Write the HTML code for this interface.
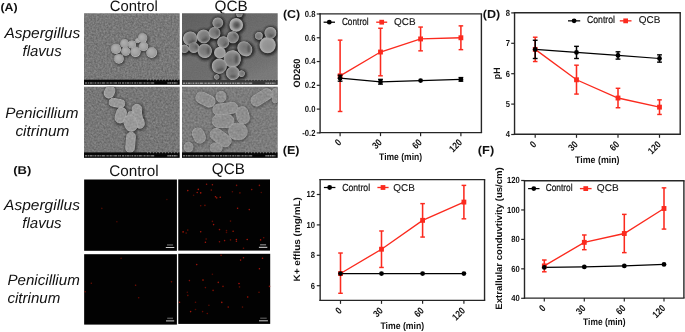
<!DOCTYPE html>
<html lang="en"><head><meta charset="utf-8"><title>Figure</title>
<style>
html,body{margin:0;padding:0;background:#fff;}
body{width:685px;height:332px;overflow:hidden;}
svg{display:block;font-family:'Liberation Sans', Arial, sans-serif;text-rendering:geometricPrecision;}
</style></head>
<body>
<svg width="685" height="332" viewBox="0 0 685 332">
<rect width="685" height="332" fill="#fff"/>
<defs>
<filter id="n0" x="0" y="0" width="100%" height="100%" color-interpolation-filters="sRGB">
<feTurbulence type="fractalNoise" baseFrequency="0.55" numOctaves="2" seed="3" result="t"/>
<feColorMatrix in="t" type="matrix" values="0.24 0 0 0 0.350  0.24 0 0 0 0.350  0.24 0 0 0 0.350  0 0 0 0 1"/>
</filter>
<filter id="n1" x="0" y="0" width="100%" height="100%" color-interpolation-filters="sRGB">
<feTurbulence type="fractalNoise" baseFrequency="0.8" numOctaves="2" seed="11" result="t"/>
<feColorMatrix in="t" type="matrix" values="0.05 0 0 0 0.405  0.05 0 0 0 0.405  0.05 0 0 0 0.405  0 0 0 0 1"/>
</filter>
<filter id="n2" x="0" y="0" width="100%" height="100%" color-interpolation-filters="sRGB">
<feTurbulence type="fractalNoise" baseFrequency="0.55" numOctaves="2" seed="7" result="t"/>
<feColorMatrix in="t" type="matrix" values="0.24 0 0 0 0.330  0.24 0 0 0 0.330  0.24 0 0 0 0.330  0 0 0 0 1"/>
</filter>
<filter id="n3" x="0" y="0" width="100%" height="100%" color-interpolation-filters="sRGB">
<feTurbulence type="fractalNoise" baseFrequency="0.55" numOctaves="2" seed="5" result="t"/>
<feColorMatrix in="t" type="matrix" values="0.16 0 0 0 0.390  0.16 0 0 0 0.390  0.16 0 0 0 0.390  0 0 0 0 1"/>
</filter>
<filter id="nt" x="0" y="0" width="100%" height="100%" color-interpolation-filters="sRGB">
<feTurbulence type="fractalNoise" baseFrequency="0.5" numOctaves="2" seed="21" result="t"/>
<feColorMatrix in="t" type="matrix" values="0.9 0 0 0 0.110  0.9 0 0 0 0.110  0.9 0 0 0 0.110  0 0 0 0 1"/>
</filter>
<filter id="b1" x="-20%" y="-20%" width="140%" height="140%"><feGaussianBlur stdDeviation="0.5"/></filter>
<filter id="b2" x="-20%" y="-20%" width="140%" height="140%"><feGaussianBlur stdDeviation="0.35"/></filter>
<radialGradient id="sp" cx="50%" cy="50%" r="52%" fx="36%" fy="33%">
<stop offset="0" stop-color="#b0b0b0"/><stop offset="0.5" stop-color="#a6a6a6"/><stop offset="0.84" stop-color="#9a9a9a"/><stop offset="0.94" stop-color="#bcbcbc"/><stop offset="1" stop-color="#a4a4a4"/>
</radialGradient>
<radialGradient id="sq" cx="50%" cy="50%" r="52%" fx="38%" fy="40%">
<stop offset="0" stop-color="#747474"/><stop offset="0.6" stop-color="#828282"/><stop offset="0.84" stop-color="#989898"/><stop offset="0.95" stop-color="#b2b2b2"/><stop offset="1" stop-color="#929292"/>
</radialGradient>
<radialGradient id="sb" cx="50%" cy="50%" r="52%" fx="58%" fy="60%">
<stop offset="0" stop-color="#909090"/><stop offset="0.6" stop-color="#989898"/><stop offset="0.9" stop-color="#acacac"/><stop offset="1" stop-color="#969696"/>
</radialGradient>
<radialGradient id="sr" cx="50%" cy="50%" r="54%">
<stop offset="0" stop-color="#a0a0a0"/><stop offset="0.7" stop-color="#a8a8a8"/><stop offset="0.94" stop-color="#c2c2c2"/><stop offset="1" stop-color="#acacac"/>
</radialGradient>
<radialGradient id="sd" cx="50%" cy="50%" r="52%" fx="55%" fy="52%">
<stop offset="0" stop-color="#4c4c4c"/><stop offset="0.35" stop-color="#686868"/><stop offset="0.65" stop-color="#9a9a9a"/><stop offset="0.92" stop-color="#b4b4b4"/><stop offset="1" stop-color="#8e8e8e"/>
</radialGradient>
<filter id="b3" x="-20%" y="-20%" width="140%" height="140%"><feGaussianBlur stdDeviation="0.9"/></filter>
<clipPath id="c0"><rect x="84.0" y="13.3" width="95.7" height="71.4"/></clipPath>
<clipPath id="c1"><rect x="182.0" y="13.3" width="95.7" height="71.4"/></clipPath>
<clipPath id="c2"><rect x="84.0" y="86.65" width="95.7" height="71.05"/></clipPath>
<clipPath id="c3"><rect x="182.0" y="86.65" width="95.7" height="71.05"/></clipPath>
<linearGradient id="bg1" x1="0" y1="0" x2="0.6" y2="1"><stop offset="0" stop-color="#000" stop-opacity="0.14"/><stop offset="0.55" stop-color="#000" stop-opacity="0"/><stop offset="1" stop-color="#fff" stop-opacity="0.08"/></linearGradient>
</defs>
<text x="0.40" y="11.00" font-size="11.2" font-weight="bold" font-style="normal" text-anchor="start" fill="#111" textLength="17.20" lengthAdjust="spacingAndGlyphs">(A)</text>
<text x="13.30" y="174.40" font-size="11.2" font-weight="bold" font-style="normal" text-anchor="start" fill="#111" textLength="18.00" lengthAdjust="spacingAndGlyphs">(B)</text>
<text x="109.80" y="11.20" font-size="15" font-weight="normal" font-style="normal" text-anchor="start" fill="#111" textLength="47.90" lengthAdjust="spacingAndGlyphs">Control</text>
<text x="214.50" y="11.20" font-size="15" font-weight="normal" font-style="normal" text-anchor="start" fill="#111" textLength="33.20" lengthAdjust="spacingAndGlyphs">QCB</text>
<text x="109.30" y="175.70" font-size="15.4" font-weight="normal" font-style="normal" text-anchor="start" fill="#111" textLength="49.30" lengthAdjust="spacingAndGlyphs">Control</text>
<text x="211.80" y="174.20" font-size="15.4" font-weight="normal" font-style="normal" text-anchor="start" fill="#111" textLength="33.00" lengthAdjust="spacingAndGlyphs">QCB</text>
<text x="4.40" y="37.50" font-size="15" font-weight="normal" font-style="italic" text-anchor="start" fill="#111" textLength="75.80" lengthAdjust="spacingAndGlyphs">Aspergillus</text>
<text x="22.60" y="55.70" font-size="15" font-weight="normal" font-style="italic" text-anchor="start" fill="#111" textLength="39.00" lengthAdjust="spacingAndGlyphs">flavus</text>
<text x="5.30" y="118.00" font-size="15" font-weight="normal" font-style="italic" text-anchor="start" fill="#111" textLength="73.20" lengthAdjust="spacingAndGlyphs">Penicillium</text>
<text x="15.40" y="136.40" font-size="15" font-weight="normal" font-style="italic" text-anchor="start" fill="#111" textLength="54.00" lengthAdjust="spacingAndGlyphs">citrinum</text>
<text x="4.10" y="209.70" font-size="15" font-weight="normal" font-style="italic" text-anchor="start" fill="#111" textLength="75.80" lengthAdjust="spacingAndGlyphs">Aspergillus</text>
<text x="22.30" y="227.70" font-size="15" font-weight="normal" font-style="italic" text-anchor="start" fill="#111" textLength="39.30" lengthAdjust="spacingAndGlyphs">flavus</text>
<text x="7.40" y="284.60" font-size="15" font-weight="normal" font-style="italic" text-anchor="start" fill="#111" textLength="72.40" lengthAdjust="spacingAndGlyphs">Penicillium</text>
<text x="7.40" y="303.40" font-size="15" font-weight="normal" font-style="italic" text-anchor="start" fill="#111" textLength="53.00" lengthAdjust="spacingAndGlyphs">citrinum</text>
<g clip-path="url(#c0)">
<rect x="84.0" y="13.3" width="95.7" height="71.4" fill="#787878" filter="url(#n0)"/>
<g filter="url(#b3)">
<ellipse cx="116.8" cy="49.9" rx="5.8" ry="5.8" fill="#383838" opacity="0.8"/>
<ellipse cx="125.3" cy="44.5" rx="5.1" ry="5.1" fill="#383838" opacity="0.8"/>
<ellipse cx="132.8" cy="45.5" rx="4.7" ry="4.7" fill="#383838" opacity="0.8"/>
<ellipse cx="138.4" cy="41.5" rx="3.3" ry="3.3" fill="#383838" opacity="0.8"/>
<ellipse cx="143.4" cy="39.1" rx="5.5" ry="5.5" fill="#383838" opacity="0.8"/>
<ellipse cx="144.3" cy="47.4" rx="5.4" ry="5.4" fill="#383838" opacity="0.8"/>
<ellipse cx="126.5" cy="52.3" rx="5.2" ry="5.2" fill="#383838" opacity="0.8"/>
<ellipse cx="136.3" cy="52.7" rx="5.9" ry="5.9" fill="#383838" opacity="0.8"/>
<ellipse cx="152.5" cy="53.5" rx="6.1" ry="6.1" fill="#383838" opacity="0.8"/>
<ellipse cx="119.7" cy="59.8" rx="5.6" ry="5.6" fill="#383838" opacity="0.8"/>
</g>
<g filter="url(#b1)">
<ellipse cx="116.0" cy="48.9" rx="5.1" ry="5.1" fill="url(#sp)"/>
<ellipse cx="124.5" cy="43.5" rx="4.4" ry="4.4" fill="url(#sp)"/>
<ellipse cx="132.0" cy="44.5" rx="4.0" ry="4.0" fill="url(#sp)"/>
<ellipse cx="137.6" cy="40.5" rx="2.6" ry="2.6" fill="url(#sp)"/>
<ellipse cx="142.6" cy="38.1" rx="4.8" ry="4.8" fill="url(#sp)"/>
<ellipse cx="143.5" cy="46.4" rx="4.7" ry="4.7" fill="url(#sp)"/>
<ellipse cx="125.7" cy="51.3" rx="4.5" ry="4.5" fill="url(#sp)"/>
<ellipse cx="135.5" cy="51.7" rx="5.2" ry="5.2" fill="url(#sp)"/>
<ellipse cx="151.7" cy="52.5" rx="5.4" ry="5.4" fill="url(#sp)"/>
<ellipse cx="118.9" cy="58.8" rx="4.9" ry="4.9" fill="url(#sp)"/>
</g>
<rect x="84.0" y="79.7" width="95.7" height="5.5" fill="#070707"/>
<line x1="85.0" y1="82.95" x2="155.0" y2="82.95" stroke="#747474" stroke-width="1.5" stroke-dasharray="2.2 0.7 1.1 0.6 3 0.8 0.9 0.5 1.6 0.9"/>
<line x1="167.4" y1="82.95" x2="177.4" y2="82.95" stroke="#8a8a8a" stroke-width="1.5" stroke-dasharray="1.4 0.5 2 0.6"/>
<line x1="147.0" y1="79.90" x2="179.7" y2="79.90" stroke="#c0c0c0" stroke-width="1.3" stroke-dasharray="0.6 2.4" opacity="0.8"/>
</g>
<g clip-path="url(#c1)">
<rect x="182.0" y="13.3" width="95.7" height="71.4" fill="#6e6e6e" filter="url(#n1)"/>
<rect x="182.0" y="13.3" width="95.7" height="71.4" fill="url(#bg1)"/>
<g filter="url(#b3)">
<ellipse cx="190.7" cy="39.4" rx="8.8" ry="8.8" fill="#1c1c1c" opacity="0.8"/>
<ellipse cx="204.2" cy="37.2" rx="8.5" ry="8.5" fill="#1c1c1c" opacity="0.8"/>
<ellipse cx="215.0" cy="33.7" rx="7.6" ry="7.6" fill="#1c1c1c" opacity="0.8"/>
<ellipse cx="218.3" cy="23.6" rx="7.0" ry="7.0" fill="#1c1c1c" opacity="0.8"/>
<ellipse cx="236.7" cy="25.7" rx="8.5" ry="8.5" fill="#1c1c1c" opacity="0.8"/>
<ellipse cx="233.4" cy="38.1" rx="7.6" ry="7.6" fill="#1c1c1c" opacity="0.8"/>
<ellipse cx="223.7" cy="43.1" rx="7.6" ry="7.6" fill="#1c1c1c" opacity="0.8"/>
<ellipse cx="245.3" cy="49.6" rx="9.8" ry="8.5" fill="#1c1c1c" opacity="0.8" transform="rotate(15 244.8 48.8)"/>
<ellipse cx="205.3" cy="51.7" rx="8.8" ry="8.8" fill="#1c1c1c" opacity="0.8"/>
<ellipse cx="194.4" cy="48.5" rx="7.0" ry="7.0" fill="#1c1c1c" opacity="0.8"/>
<ellipse cx="185.1" cy="49.6" rx="5.9" ry="5.9" fill="#1c1c1c" opacity="0.8"/>
<ellipse cx="220.4" cy="53.5" rx="7.5" ry="7.5" fill="#1c1c1c" opacity="0.8"/>
<ellipse cx="232.8" cy="59.7" rx="10.3" ry="10.3" fill="#1c1c1c" opacity="0.8"/>
<ellipse cx="219.8" cy="66.9" rx="9.2" ry="9.2" fill="#1c1c1c" opacity="0.8" transform="rotate(200 219.3 66.1)"/>
<ellipse cx="233.4" cy="74.0" rx="8.5" ry="8.5" fill="#1c1c1c" opacity="0.8"/>
<ellipse cx="242.1" cy="74.5" rx="4.9" ry="4.9" fill="#1c1c1c" opacity="0.8"/>
<ellipse cx="268.1" cy="45.9" rx="9.8" ry="9.8" fill="#1c1c1c" opacity="0.8"/>
<ellipse cx="270.9" cy="33.7" rx="7.6" ry="7.6" fill="#1c1c1c" opacity="0.8"/>
<ellipse cx="259.4" cy="36.6" rx="5.5" ry="5.5" fill="#1c1c1c" opacity="0.8"/>
<ellipse cx="239.9" cy="14.8" rx="4.8" ry="4.8" fill="#1c1c1c" opacity="0.8"/>
<ellipse cx="217.2" cy="77.8" rx="4.2" ry="4.2" fill="#1c1c1c" opacity="0.8"/>
</g>
<g filter="url(#b1)">
<ellipse cx="190.2" cy="38.6" rx="7.2" ry="7.2" fill="url(#sq)" transform="rotate(120 190.2 38.6)"/>
<ellipse cx="203.7" cy="36.4" rx="6.9" ry="6.9" fill="url(#sq)" transform="rotate(155 203.7 36.4)"/>
<ellipse cx="214.5" cy="32.9" rx="6.0" ry="6.0" fill="url(#sq)" transform="rotate(52 214.5 32.9)"/>
<ellipse cx="217.8" cy="22.8" rx="5.4" ry="5.4" fill="url(#sq)" transform="rotate(202 217.8 22.8)"/>
<ellipse cx="236.2" cy="24.9" rx="6.9" ry="6.9" fill="url(#sd)"/>
<ellipse cx="232.9" cy="37.3" rx="6.0" ry="6.0" fill="url(#sq)" transform="rotate(245 232.9 37.3)"/>
<ellipse cx="223.2" cy="42.3" rx="6.0" ry="6.0" fill="url(#sq)" transform="rotate(79 223.2 42.3)"/>
<ellipse cx="244.8" cy="48.8" rx="8.2" ry="6.9" fill="url(#sq)" transform="rotate(46 244.8 48.8)"/>
<ellipse cx="204.8" cy="50.9" rx="7.2" ry="7.2" fill="url(#sq)" transform="rotate(34 204.8 50.9)"/>
<ellipse cx="193.9" cy="47.7" rx="5.4" ry="5.4" fill="url(#sq)" transform="rotate(10 193.9 47.7)"/>
<ellipse cx="184.6" cy="48.8" rx="4.3" ry="4.3" fill="url(#sq)" transform="rotate(205 184.6 48.8)"/>
<ellipse cx="219.9" cy="52.7" rx="5.9" ry="5.9" fill="url(#sb)"/>
<ellipse cx="232.3" cy="58.9" rx="8.7" ry="8.7" fill="url(#sq)" transform="rotate(281 232.3 58.9)"/>
<ellipse cx="219.3" cy="66.1" rx="7.6" ry="7.6" fill="url(#sq)" transform="rotate(148 219.3 66.1)"/>
<ellipse cx="232.9" cy="73.2" rx="6.9" ry="6.9" fill="url(#sq)" transform="rotate(30 232.9 73.2)"/>
<ellipse cx="241.6" cy="73.7" rx="3.3" ry="3.3" fill="url(#sq)" transform="rotate(113 241.6 73.7)"/>
<ellipse cx="267.6" cy="45.1" rx="8.2" ry="8.2" fill="url(#sb)"/>
<ellipse cx="270.4" cy="32.9" rx="6.0" ry="6.0" fill="url(#sq)" transform="rotate(266 270.4 32.9)"/>
<ellipse cx="258.9" cy="35.8" rx="3.9" ry="3.9" fill="url(#sq)" transform="rotate(274 258.9 35.8)"/>
<ellipse cx="239.4" cy="14.0" rx="3.2" ry="3.2" fill="url(#sq)" transform="rotate(184 239.4 14.0)"/>
<ellipse cx="216.7" cy="77.0" rx="2.6" ry="2.6" fill="url(#sq)" transform="rotate(141 216.7 77.0)"/>
</g>
<g filter="url(#b3)">
<ellipse cx="191.8" cy="41.8" rx="4.0" ry="1.4" fill="#303030" opacity="0.6" transform="rotate(154 191.8 41.8)"/>
<ellipse cx="204.9" cy="39.6" rx="3.8" ry="1.4" fill="#303030" opacity="0.6" transform="rotate(160 204.9 39.6)"/>
<ellipse cx="217.5" cy="32.8" rx="3.3" ry="1.2" fill="#303030" opacity="0.6" transform="rotate(89 217.5 32.8)"/>
<ellipse cx="218.1" cy="25.5" rx="3.0" ry="1.1" fill="#303030" opacity="0.6" transform="rotate(174 218.1 25.5)"/>
<ellipse cx="235.5" cy="35.7" rx="3.3" ry="1.2" fill="#303030" opacity="0.6" transform="rotate(59 235.5 35.7)"/>
<ellipse cx="225.3" cy="44.5" rx="3.3" ry="1.2" fill="#303030" opacity="0.6" transform="rotate(136 225.3 44.5)"/>
<ellipse cx="248.9" cy="48.7" rx="4.5" ry="1.4" fill="#303030" opacity="0.6" transform="rotate(88 248.9 48.7)"/>
<ellipse cx="208.4" cy="50.9" rx="4.0" ry="1.4" fill="#303030" opacity="0.6" transform="rotate(90 208.4 50.9)"/>
<ellipse cx="196.5" cy="47.1" rx="3.0" ry="1.1" fill="#303030" opacity="0.6" transform="rotate(76 196.5 47.1)"/>
<ellipse cx="236.6" cy="59.1" rx="4.8" ry="1.7" fill="#303030" opacity="0.6" transform="rotate(92 236.6 59.1)"/>
<ellipse cx="220.3" cy="69.8" rx="4.2" ry="1.5" fill="#303030" opacity="0.6" transform="rotate(165 220.3 69.8)"/>
<ellipse cx="233.1" cy="76.6" rx="3.8" ry="1.4" fill="#303030" opacity="0.6" transform="rotate(177 233.1 76.6)"/>
<ellipse cx="271.3" cy="35.8" rx="3.3" ry="1.2" fill="#303030" opacity="0.6" transform="rotate(163 271.3 35.8)"/>
</g>
<rect x="182.0" y="80.0" width="95.7" height="5.2" fill="#383838"/>
<line x1="183.0" y1="83.25" x2="253.0" y2="83.25" stroke="#969696" stroke-width="1.5" stroke-dasharray="2.2 0.7 1.1 0.6 3 0.8 0.9 0.5 1.6 0.9"/>
<line x1="265.4" y1="83.25" x2="275.4" y2="83.25" stroke="#969696" stroke-width="1.5" stroke-dasharray="1.4 0.5 2 0.6"/>
<line x1="245.0" y1="80.20" x2="277.7" y2="80.20" stroke="#a0a0a0" stroke-width="1.3" stroke-dasharray="0.6 2.4" opacity="0.8"/>
</g>
<g clip-path="url(#c2)">
<rect x="84.0" y="86.65" width="95.7" height="71.05" fill="#737373" filter="url(#n2)"/>
<g filter="url(#b3)">
<rect x="103.6" y="84.8" width="13.0" height="15.8" rx="6.4" ry="6.4" fill="#262626" opacity="0.75" transform="rotate(25 110.1 92.7)"/>
<rect x="107.9" y="97.9" width="19.0" height="11.4" rx="5.6" ry="5.6" fill="#262626" opacity="0.75" transform="rotate(10 117.4 103.6)"/>
<rect x="114.6" y="106.5" width="13.4" height="19.0" rx="6.6" ry="6.6" fill="#262626" opacity="0.75" transform="rotate(15 121.3 116.0)"/>
<rect x="131.0" y="103.3" width="13.0" height="13.8" rx="6.4" ry="6.4" fill="#262626" opacity="0.75"/>
<rect x="133.9" y="115.7" width="12.4" height="15.0" rx="6.1" ry="6.1" fill="#262626" opacity="0.75" transform="rotate(-10 140.1 123.2)"/>
<rect x="133.2" y="106.9" width="11.0" height="18.6" rx="5.4" ry="5.4" fill="#262626" opacity="0.75" transform="rotate(-10 138.7 116.2)"/>
<rect x="126.5" y="110.3" width="9.2" height="9.2" rx="4.5" ry="4.5" fill="#262626" opacity="0.75"/>
<rect x="123.2" y="113.7" width="15.8" height="20.0" rx="7.7" ry="7.7" fill="#262626" opacity="0.75" transform="rotate(-20 131.1 123.7)"/>
<rect x="125.0" y="131.1" width="12.2" height="23.8" rx="6.0" ry="6.0" fill="#262626" opacity="0.75" transform="rotate(5 131.1 143.0)"/>
</g>
<g filter="url(#b1)">
<rect x="104.8" y="85.8" width="9.5" height="12.3" rx="4.7" ry="4.7" fill="#9c9c9c" stroke="#b0b0b0" stroke-width="0.9" transform="rotate(25 109.6 92.0)"/>
<rect x="109.2" y="99.0" width="15.5" height="7.9" rx="3.9" ry="3.9" fill="#9c9c9c" stroke="#b0b0b0" stroke-width="0.9" transform="rotate(10 116.9 102.9)"/>
<rect x="115.8" y="107.5" width="9.9" height="15.5" rx="4.9" ry="4.9" fill="#9c9c9c" stroke="#b0b0b0" stroke-width="0.9" transform="rotate(15 120.8 115.3)"/>
<rect x="132.2" y="104.3" width="9.5" height="10.3" rx="4.7" ry="4.7" fill="#9c9c9c" stroke="#b0b0b0" stroke-width="0.9"/>
<rect x="135.2" y="116.8" width="8.9" height="11.5" rx="4.4" ry="4.4" fill="#9c9c9c" stroke="#b0b0b0" stroke-width="0.9" transform="rotate(-10 139.6 122.5)"/>
<rect x="134.4" y="108.0" width="7.5" height="15.1" rx="3.7" ry="3.7" fill="#9c9c9c" stroke="#b0b0b0" stroke-width="0.9" transform="rotate(-10 138.2 115.5)"/>
<rect x="127.8" y="111.4" width="5.7" height="5.7" rx="2.8" ry="2.8" fill="#9c9c9c" stroke="#b0b0b0" stroke-width="0.9"/>
<rect x="124.4" y="114.8" width="12.3" height="16.5" rx="6.0" ry="6.0" fill="#9c9c9c" stroke="#b0b0b0" stroke-width="0.9" transform="rotate(-20 130.6 123.0)"/>
<rect x="126.2" y="132.2" width="8.7" height="20.3" rx="4.3" ry="4.3" fill="#9c9c9c" stroke="#b0b0b0" stroke-width="0.9" transform="rotate(5 130.6 142.3)"/>
</g>
<g filter="url(#b3)">
<rect x="107.0" y="88.7" width="5.2" height="6.6" rx="2.5" ry="2.5" fill="#969696" opacity="0.5" transform="rotate(25 109.6 92.0)"/>
<rect x="112.8" y="100.7" width="8.2" height="4.4" rx="2.2" ry="2.2" fill="#969696" opacity="0.5" transform="rotate(10 116.9 102.9)"/>
<rect x="118.1" y="111.2" width="5.4" height="8.2" rx="2.6" ry="2.6" fill="#969696" opacity="0.5" transform="rotate(15 120.8 115.3)"/>
<rect x="134.4" y="106.7" width="5.2" height="5.6" rx="2.5" ry="2.5" fill="#969696" opacity="0.5"/>
<rect x="137.2" y="119.4" width="4.9" height="6.2" rx="2.4" ry="2.4" fill="#969696" opacity="0.5" transform="rotate(-10 139.6 122.5)"/>
<rect x="136.1" y="111.5" width="4.2" height="8.0" rx="2.1" ry="2.1" fill="#969696" opacity="0.5" transform="rotate(-10 138.2 115.5)"/>
<rect x="128.9" y="112.5" width="3.3" height="3.3" rx="1.6" ry="1.6" fill="#969696" opacity="0.5"/>
<rect x="127.3" y="118.7" width="6.6" height="8.7" rx="3.2" ry="3.2" fill="#969696" opacity="0.5" transform="rotate(-20 130.6 123.0)"/>
<rect x="128.2" y="137.0" width="4.8" height="10.6" rx="2.4" ry="2.4" fill="#969696" opacity="0.5" transform="rotate(5 130.6 142.3)"/>
</g>
<rect x="84.0" y="86.65" width="95.7" height="71.05" fill="#8f8f8f" filter="url(#nt)" opacity="0.16"/>
<rect x="84.0" y="152.4" width="95.7" height="5.8" fill="#070707"/>
<line x1="85.0" y1="155.65" x2="155.0" y2="155.65" stroke="#747474" stroke-width="1.5" stroke-dasharray="2.2 0.7 1.1 0.6 3 0.8 0.9 0.5 1.6 0.9"/>
<line x1="167.4" y1="155.65" x2="177.4" y2="155.65" stroke="#8a8a8a" stroke-width="1.5" stroke-dasharray="1.4 0.5 2 0.6"/>
<line x1="147.0" y1="152.60" x2="179.7" y2="152.60" stroke="#c0c0c0" stroke-width="1.3" stroke-dasharray="0.6 2.4" opacity="0.8"/>
</g>
<g clip-path="url(#c3)">
<rect x="182.0" y="86.65" width="95.7" height="71.05" fill="#787878" filter="url(#n3)"/>
<g filter="url(#b3)">
<rect x="194.5" y="93.0" width="22.8" height="14.2" rx="7.0" ry="7.0" fill="#333333" opacity="0.6" transform="rotate(25 205.9 100.1)"/>
<rect x="215.1" y="90.6" width="12.8" height="13.8" rx="6.3" ry="6.3" fill="#333333" opacity="0.6"/>
<rect x="211.8" y="102.6" width="28.0" height="13.8" rx="6.8" ry="6.8" fill="#333333" opacity="0.6" transform="rotate(-8 225.8 109.5)"/>
<rect x="235.7" y="105.9" width="15.0" height="20.2" rx="7.3" ry="7.3" fill="#333333" opacity="0.6" transform="rotate(-15 243.2 116.0)"/>
<rect x="211.4" y="113.9" width="24.6" height="15.8" rx="7.7" ry="7.7" fill="#333333" opacity="0.6"/>
<rect x="227.6" y="122.5" width="21.6" height="19.4" rx="9.5" ry="9.5" fill="#333333" opacity="0.6"/>
<rect x="208.2" y="130.8" width="25.8" height="15.0" rx="7.3" ry="7.3" fill="#333333" opacity="0.6" transform="rotate(35 221.1 138.3)"/>
<rect x="192.3" y="126.9" width="14.2" height="18.4" rx="7.0" ry="7.0" fill="#333333" opacity="0.6" transform="rotate(-25 199.4 136.1)"/>
<rect x="183.2" y="141.4" width="11.6" height="12.8" rx="5.7" ry="5.7" fill="#333333" opacity="0.6"/>
<rect x="209.2" y="142.1" width="15.0" height="12.8" rx="6.3" ry="6.3" fill="#333333" opacity="0.6"/>
<rect x="249.3" y="91.1" width="25.8" height="13.8" rx="6.8" ry="6.8" fill="#333333" opacity="0.6" transform="rotate(-32 262.2 98.0)"/>
<rect x="271.4" y="87.9" width="8.6" height="17.2" rx="4.2" ry="4.2" fill="#333333" opacity="0.6"/>
</g>
<g filter="url(#b1)">
<rect x="195.5" y="93.8" width="19.9" height="11.3" rx="5.5" ry="5.5" fill="#909090" stroke="#a4a4a4" stroke-width="0.9" transform="rotate(25 205.4 99.4)"/>
<rect x="216.1" y="91.3" width="9.9" height="10.9" rx="4.9" ry="4.9" fill="#909090" stroke="#a4a4a4" stroke-width="0.9"/>
<rect x="212.8" y="103.3" width="25.1" height="10.9" rx="5.3" ry="5.3" fill="#909090" stroke="#a4a4a4" stroke-width="0.9" transform="rotate(-8 225.3 108.8)"/>
<rect x="236.6" y="106.6" width="12.1" height="17.3" rx="5.9" ry="5.9" fill="#909090" stroke="#a4a4a4" stroke-width="0.9" transform="rotate(-15 242.7 115.3)"/>
<rect x="212.3" y="114.6" width="21.7" height="12.9" rx="6.3" ry="6.3" fill="#909090" stroke="#a4a4a4" stroke-width="0.9"/>
<rect x="228.6" y="123.2" width="18.7" height="16.5" rx="8.1" ry="8.1" fill="#909090" stroke="#a4a4a4" stroke-width="0.9"/>
<rect x="209.2" y="131.5" width="22.9" height="12.1" rx="5.9" ry="5.9" fill="#909090" stroke="#a4a4a4" stroke-width="0.9" transform="rotate(35 220.6 137.6)"/>
<rect x="193.2" y="127.7" width="11.3" height="15.5" rx="5.5" ry="5.5" fill="#909090" stroke="#a4a4a4" stroke-width="0.9" transform="rotate(-25 198.9 135.4)"/>
<rect x="184.2" y="142.2" width="8.7" height="9.9" rx="4.3" ry="4.3" fill="#909090" stroke="#a4a4a4" stroke-width="0.9"/>
<rect x="210.1" y="142.9" width="12.1" height="9.9" rx="4.9" ry="4.9" fill="#909090" stroke="#a4a4a4" stroke-width="0.9"/>
<rect x="250.2" y="91.8" width="22.9" height="10.9" rx="5.3" ry="5.3" fill="#909090" stroke="#a4a4a4" stroke-width="0.9" transform="rotate(-32 261.7 97.3)"/>
<rect x="272.3" y="88.6" width="5.7" height="14.3" rx="2.8" ry="2.8" fill="#909090" stroke="#a4a4a4" stroke-width="0.9"/>
</g>
<g filter="url(#b3)">
<rect x="200.2" y="96.4" width="10.4" height="6.1" rx="3.0" ry="3.0" fill="#8a8a8a" opacity="0.5" transform="rotate(25 205.4 99.4)"/>
<rect x="218.3" y="93.8" width="5.4" height="5.9" rx="2.6" ry="2.6" fill="#8a8a8a" opacity="0.5"/>
<rect x="218.8" y="105.8" width="13.0" height="5.9" rx="2.9" ry="2.9" fill="#8a8a8a" opacity="0.5" transform="rotate(-8 225.3 108.8)"/>
<rect x="239.4" y="110.8" width="6.5" height="9.1" rx="3.2" ry="3.2" fill="#8a8a8a" opacity="0.5" transform="rotate(-15 242.7 115.3)"/>
<rect x="217.5" y="117.6" width="11.3" height="6.9" rx="3.4" ry="3.4" fill="#8a8a8a" opacity="0.5"/>
<rect x="233.0" y="127.2" width="9.8" height="8.7" rx="4.3" ry="4.3" fill="#8a8a8a" opacity="0.5"/>
<rect x="214.7" y="134.3" width="11.9" height="6.5" rx="3.2" ry="3.2" fill="#8a8a8a" opacity="0.5" transform="rotate(35 220.6 137.6)"/>
<rect x="195.8" y="131.3" width="6.1" height="8.2" rx="3.0" ry="3.0" fill="#8a8a8a" opacity="0.5" transform="rotate(-25 198.9 135.4)"/>
<rect x="186.1" y="144.4" width="4.8" height="5.4" rx="2.4" ry="2.4" fill="#8a8a8a" opacity="0.5"/>
<rect x="212.9" y="145.1" width="6.5" height="5.4" rx="2.6" ry="2.6" fill="#8a8a8a" opacity="0.5"/>
<rect x="255.8" y="94.3" width="11.9" height="5.9" rx="2.9" ry="2.9" fill="#8a8a8a" opacity="0.5" transform="rotate(-32 261.7 97.3)"/>
<rect x="273.6" y="92.0" width="3.3" height="7.6" rx="1.6" ry="1.6" fill="#8a8a8a" opacity="0.5"/>
</g>
<rect x="182.0" y="86.65" width="95.7" height="71.05" fill="#8f8f8f" filter="url(#nt)" opacity="0.2"/>
<rect x="182.0" y="152.4" width="95.7" height="5.8" fill="#070707"/>
<line x1="183.0" y1="155.65" x2="253.0" y2="155.65" stroke="#747474" stroke-width="1.5" stroke-dasharray="2.2 0.7 1.1 0.6 3 0.8 0.9 0.5 1.6 0.9"/>
<line x1="265.4" y1="155.65" x2="275.4" y2="155.65" stroke="#8a8a8a" stroke-width="1.5" stroke-dasharray="1.4 0.5 2 0.6"/>
<line x1="245.0" y1="152.60" x2="277.7" y2="152.60" stroke="#c0c0c0" stroke-width="1.3" stroke-dasharray="0.6 2.4" opacity="0.8"/>
</g>
<rect x="84.15" y="179.5" width="92.75" height="71.3" fill="#020202"/>
<rect x="178.25" y="179.4" width="91.75" height="71.2" fill="#020202"/>
<rect x="84.15" y="254.2" width="92.75" height="70.4" fill="#020202"/>
<rect x="178.25" y="253.8" width="91.95" height="70.1" fill="#020202"/>
<g fill="#c01a0c" filter="url(#b2)">
<circle cx="166.9" cy="199.5" r="0.8" opacity="0.36"/>
<circle cx="101.8" cy="208.4" r="0.8" opacity="0.39"/>
<circle cx="116.9" cy="221.8" r="0.8" opacity="0.40"/>
</g>
<g fill="#c01a0c" filter="url(#b2)">
<circle cx="206.6" cy="184.2" r="0.8" opacity="0.71"/>
<circle cx="212.4" cy="184.7" r="0.8" opacity="0.77"/>
<circle cx="187.8" cy="190.6" r="0.8" opacity="0.80"/>
<circle cx="198.3" cy="189.4" r="0.8" opacity="0.87"/>
<circle cx="197.2" cy="192.5" r="0.8" opacity="0.77"/>
<circle cx="200.7" cy="192.9" r="0.8" opacity="0.86"/>
<circle cx="193.6" cy="195.3" r="0.8" opacity="0.41"/>
<circle cx="211.3" cy="190.1" r="0.8" opacity="0.63"/>
<circle cx="215.5" cy="196.7" r="0.8" opacity="0.87"/>
<circle cx="216.7" cy="197.9" r="0.8" opacity="0.72"/>
<circle cx="220.2" cy="197.2" r="0.8" opacity="0.85"/>
<circle cx="232.4" cy="191.7" r="0.8" opacity="0.46"/>
<circle cx="236.6" cy="185.4" r="0.8" opacity="0.63"/>
<circle cx="239.9" cy="192.9" r="0.8" opacity="0.52"/>
<circle cx="251.7" cy="189.6" r="0.8" opacity="0.67"/>
<circle cx="259.4" cy="185.4" r="0.8" opacity="0.69"/>
<circle cx="261.3" cy="192.5" r="0.8" opacity="0.41"/>
<circle cx="200.7" cy="205.8" r="0.8" opacity="0.51"/>
<circle cx="204.9" cy="205.4" r="0.8" opacity="0.54"/>
<circle cx="237.6" cy="208.2" r="0.8" opacity="0.86"/>
<circle cx="249.3" cy="209.6" r="0.8" opacity="0.78"/>
<circle cx="212.4" cy="221.4" r="0.8" opacity="0.48"/>
<circle cx="213.6" cy="224.6" r="0.8" opacity="0.80"/>
<circle cx="230.5" cy="221.1" r="0.8" opacity="0.47"/>
<circle cx="219.5" cy="229.6" r="0.8" opacity="0.71"/>
<circle cx="226.5" cy="230.5" r="0.8" opacity="0.46"/>
<circle cx="226.5" cy="232.4" r="0.8" opacity="0.40"/>
<circle cx="233.1" cy="231.2" r="0.8" opacity="0.84"/>
<circle cx="187.8" cy="230.1" r="0.8" opacity="0.50"/>
<circle cx="186.1" cy="233.1" r="0.8" opacity="0.51"/>
<circle cx="183.1" cy="231.9" r="0.8" opacity="0.89"/>
<circle cx="200.7" cy="231.7" r="0.8" opacity="0.84"/>
<circle cx="206.1" cy="239.0" r="0.8" opacity="0.54"/>
<circle cx="205.4" cy="242.3" r="0.8" opacity="0.88"/>
<circle cx="219.5" cy="241.8" r="0.8" opacity="0.67"/>
<circle cx="224.6" cy="240.6" r="0.8" opacity="0.74"/>
<circle cx="230.5" cy="239.9" r="0.8" opacity="0.50"/>
<circle cx="236.4" cy="239.5" r="0.8" opacity="0.87"/>
<circle cx="236.4" cy="241.3" r="0.8" opacity="0.75"/>
<circle cx="247.2" cy="239.5" r="0.8" opacity="0.88"/>
<circle cx="260.6" cy="239.9" r="0.8" opacity="0.85"/>
<circle cx="263.7" cy="237.8" r="0.8" opacity="0.55"/>
<circle cx="243.5" cy="248.2" r="0.8" opacity="0.58"/>
</g>
<g fill="#c01a0c" filter="url(#b2)">
<circle cx="121.1" cy="258.2" r="0.8" opacity="0.50"/>
<circle cx="91.3" cy="283.3" r="0.8" opacity="0.54"/>
<circle cx="85.2" cy="291.8" r="0.8" opacity="0.56"/>
<circle cx="135.6" cy="285.2" r="0.8" opacity="0.61"/>
<circle cx="138.7" cy="297.7" r="0.8" opacity="0.54"/>
<circle cx="171.5" cy="281.7" r="0.8" opacity="0.60"/>
</g>
<g fill="#c01a0c" filter="url(#b2)">
<circle cx="221.1" cy="255.2" r="0.8" opacity="0.71"/>
<circle cx="243.5" cy="257.8" r="0.8" opacity="0.77"/>
<circle cx="240.6" cy="260.1" r="0.8" opacity="0.80"/>
<circle cx="262.5" cy="258.2" r="0.8" opacity="0.87"/>
<circle cx="196.7" cy="264.6" r="0.8" opacity="0.77"/>
<circle cx="259.4" cy="268.8" r="0.8" opacity="0.86"/>
<circle cx="212.4" cy="274.2" r="0.8" opacity="0.41"/>
<circle cx="189.4" cy="280.6" r="0.8" opacity="0.63"/>
<circle cx="203.0" cy="280.1" r="0.8" opacity="0.87"/>
<circle cx="218.3" cy="282.4" r="0.8" opacity="0.72"/>
<circle cx="239.0" cy="283.6" r="0.8" opacity="0.85"/>
<circle cx="239.5" cy="286.9" r="0.8" opacity="0.46"/>
<circle cx="223.0" cy="286.4" r="0.8" opacity="0.63"/>
<circle cx="205.4" cy="287.6" r="0.8" opacity="0.52"/>
<circle cx="213.1" cy="290.4" r="0.8" opacity="0.67"/>
<circle cx="269.5" cy="286.4" r="0.8" opacity="0.69"/>
<circle cx="187.3" cy="292.3" r="0.8" opacity="0.41"/>
<circle cx="187.8" cy="295.4" r="0.8" opacity="0.51"/>
<circle cx="259.0" cy="292.3" r="0.8" opacity="0.54"/>
<circle cx="247.7" cy="297.0" r="0.8" opacity="0.86"/>
<circle cx="179.5" cy="302.2" r="0.8" opacity="0.78"/>
<circle cx="195.5" cy="302.2" r="0.8" opacity="0.48"/>
<circle cx="221.8" cy="302.4" r="0.8" opacity="0.80"/>
<circle cx="208.9" cy="305.2" r="0.8" opacity="0.47"/>
<circle cx="228.2" cy="307.1" r="0.8" opacity="0.71"/>
<circle cx="242.5" cy="307.1" r="0.8" opacity="0.46"/>
<circle cx="195.5" cy="309.5" r="0.8" opacity="0.40"/>
<circle cx="190.6" cy="311.6" r="0.8" opacity="0.84"/>
<circle cx="202.6" cy="311.6" r="0.8" opacity="0.50"/>
<circle cx="207.3" cy="313.5" r="0.8" opacity="0.51"/>
</g>
<rect x="165.8" y="247.0" width="8.5" height="1.0" fill="#d0d0d0"/>
<rect x="167.0" y="244.2" width="6.1" height="1.5" fill="#8a8a8a" opacity="0.6"/>
<rect x="258.9" y="246.8" width="8.4" height="1.0" fill="#e0e0e0"/>
<rect x="260.09999999999997" y="244.0" width="6.0" height="1.5" fill="#b0b0b0" opacity="0.6"/>
<rect x="166.0" y="320.4" width="8.2" height="1.0" fill="#d0d0d0"/>
<rect x="167.2" y="317.59999999999997" width="5.8" height="1.5" fill="#8a8a8a" opacity="0.6"/>
<rect x="259.0" y="320.3" width="8.9" height="1.0" fill="#d0d0d0"/>
<rect x="260.2" y="317.5" width="6.5" height="1.5" fill="#777" opacity="0.6"/>
<line x1="319.40" y1="13.90" x2="482.10" y2="13.90" stroke="#262626" stroke-width="1.4" stroke-linecap="butt"/>
<line x1="481.40" y1="13.90" x2="481.40" y2="132.65" stroke="#262626" stroke-width="1.4" stroke-linecap="butt"/>
<line x1="320.10" y1="13.20" x2="320.10" y2="133.35" stroke="#262626" stroke-width="1.4" stroke-linecap="butt"/>
<line x1="319.40" y1="132.65" x2="482.10" y2="132.65" stroke="#262626" stroke-width="1.4" stroke-linecap="butt"/>
<line x1="316.75" y1="13.98" x2="320.10" y2="13.98" stroke="#262626" stroke-width="1.2" stroke-linecap="butt"/>
<text x="304.76" y="16.93" font-size="8.8" font-weight="bold" font-style="normal" text-anchor="start" fill="#111" textLength="10.64" lengthAdjust="spacingAndGlyphs">0.8</text>
<line x1="316.75" y1="37.76" x2="320.10" y2="37.76" stroke="#262626" stroke-width="1.2" stroke-linecap="butt"/>
<text x="304.76" y="40.71" font-size="8.8" font-weight="bold" font-style="normal" text-anchor="start" fill="#111" textLength="10.64" lengthAdjust="spacingAndGlyphs">0.6</text>
<line x1="316.75" y1="61.54" x2="320.10" y2="61.54" stroke="#262626" stroke-width="1.2" stroke-linecap="butt"/>
<text x="304.76" y="64.49" font-size="8.8" font-weight="bold" font-style="normal" text-anchor="start" fill="#111" textLength="10.64" lengthAdjust="spacingAndGlyphs">0.4</text>
<line x1="316.75" y1="85.32" x2="320.10" y2="85.32" stroke="#262626" stroke-width="1.2" stroke-linecap="butt"/>
<text x="304.76" y="88.27" font-size="8.8" font-weight="bold" font-style="normal" text-anchor="start" fill="#111" textLength="10.64" lengthAdjust="spacingAndGlyphs">0.2</text>
<line x1="316.75" y1="109.10" x2="320.10" y2="109.10" stroke="#262626" stroke-width="1.2" stroke-linecap="butt"/>
<text x="304.76" y="112.05" font-size="8.8" font-weight="bold" font-style="normal" text-anchor="start" fill="#111" textLength="10.64" lengthAdjust="spacingAndGlyphs">0.0</text>
<line x1="316.75" y1="132.88" x2="320.10" y2="132.88" stroke="#262626" stroke-width="1.2" stroke-linecap="butt"/>
<text x="302.21" y="135.83" font-size="8.8" font-weight="bold" font-style="normal" text-anchor="start" fill="#111" textLength="13.19" lengthAdjust="spacingAndGlyphs">-0.2</text>
<line x1="340.10" y1="132.65" x2="340.10" y2="136.15" stroke="#262626" stroke-width="1.2" stroke-linecap="butt"/>
<line x1="380.50" y1="132.65" x2="380.50" y2="136.15" stroke="#262626" stroke-width="1.2" stroke-linecap="butt"/>
<line x1="420.60" y1="132.65" x2="420.60" y2="136.15" stroke="#262626" stroke-width="1.2" stroke-linecap="butt"/>
<line x1="460.90" y1="132.65" x2="460.90" y2="136.15" stroke="#262626" stroke-width="1.2" stroke-linecap="butt"/>
<text x="337.40" y="142.95" font-size="9.6" font-weight="bold" font-style="normal" text-anchor="start" fill="#111" textLength="4.60" lengthAdjust="spacingAndGlyphs" transform="rotate(-45 342.00 142.95)">0</text>
<text x="373.21" y="142.95" font-size="9.6" font-weight="bold" font-style="normal" text-anchor="start" fill="#111" textLength="9.19" lengthAdjust="spacingAndGlyphs" transform="rotate(-45 382.40 142.95)">30</text>
<text x="413.31" y="142.95" font-size="9.6" font-weight="bold" font-style="normal" text-anchor="start" fill="#111" textLength="9.19" lengthAdjust="spacingAndGlyphs" transform="rotate(-45 422.50 142.95)">60</text>
<text x="449.01" y="142.95" font-size="9.6" font-weight="bold" font-style="normal" text-anchor="start" fill="#111" textLength="13.79" lengthAdjust="spacingAndGlyphs" transform="rotate(-45 462.80 142.95)">120</text>
<text x="379.10" y="160.10" font-size="9.6" font-weight="bold" font-style="normal" text-anchor="start" fill="#111" textLength="43.00" lengthAdjust="spacingAndGlyphs">Time (min)</text>
<text x="299.70" y="73.00" font-size="9.3" font-weight="bold" font-style="normal" text-anchor="middle" fill="#111" textLength="28.90" lengthAdjust="spacingAndGlyphs" transform="rotate(-90 299.70 73.00)">OD260</text>
<polyline fill="none" stroke="#000" stroke-width="1.25" points="340.10,78.19 380.50,81.75 420.60,80.56 460.90,79.38"/>
<polyline fill="none" stroke="#fb2a1e" stroke-width="1.35" points="340.10,75.81 380.50,52.03 420.60,38.95 460.90,37.76"/>
<line x1="340.10" y1="111.48" x2="340.10" y2="40.14" stroke="#fb2a1e" stroke-width="1.55" stroke-linecap="butt"/>
<line x1="337.80" y1="111.48" x2="342.40" y2="111.48" stroke="#fb2a1e" stroke-width="1.45" stroke-linecap="butt"/>
<line x1="337.80" y1="40.14" x2="342.40" y2="40.14" stroke="#fb2a1e" stroke-width="1.45" stroke-linecap="butt"/>
<rect x="337.70" y="73.36" width="4.8" height="4.9" fill="#fb2a1e"/>
<line x1="380.50" y1="75.81" x2="380.50" y2="28.25" stroke="#fb2a1e" stroke-width="1.55" stroke-linecap="butt"/>
<line x1="378.20" y1="75.81" x2="382.80" y2="75.81" stroke="#fb2a1e" stroke-width="1.45" stroke-linecap="butt"/>
<line x1="378.20" y1="28.25" x2="382.80" y2="28.25" stroke="#fb2a1e" stroke-width="1.45" stroke-linecap="butt"/>
<rect x="378.10" y="49.58" width="4.8" height="4.9" fill="#fb2a1e"/>
<line x1="420.60" y1="50.84" x2="420.60" y2="27.06" stroke="#fb2a1e" stroke-width="1.55" stroke-linecap="butt"/>
<line x1="418.30" y1="50.84" x2="422.90" y2="50.84" stroke="#fb2a1e" stroke-width="1.45" stroke-linecap="butt"/>
<line x1="418.30" y1="27.06" x2="422.90" y2="27.06" stroke="#fb2a1e" stroke-width="1.45" stroke-linecap="butt"/>
<rect x="418.20" y="36.50" width="4.8" height="4.9" fill="#fb2a1e"/>
<line x1="460.90" y1="49.65" x2="460.90" y2="25.87" stroke="#fb2a1e" stroke-width="1.55" stroke-linecap="butt"/>
<line x1="458.60" y1="49.65" x2="463.20" y2="49.65" stroke="#fb2a1e" stroke-width="1.45" stroke-linecap="butt"/>
<line x1="458.60" y1="25.87" x2="463.20" y2="25.87" stroke="#fb2a1e" stroke-width="1.45" stroke-linecap="butt"/>
<rect x="458.50" y="35.31" width="4.8" height="4.9" fill="#fb2a1e"/>
<line x1="340.10" y1="81.16" x2="340.10" y2="75.21" stroke="#000" stroke-width="1.5" stroke-linecap="butt"/>
<line x1="337.70" y1="81.16" x2="342.50" y2="81.16" stroke="#000" stroke-width="1.4" stroke-linecap="butt"/>
<line x1="337.70" y1="75.21" x2="342.50" y2="75.21" stroke="#000" stroke-width="1.4" stroke-linecap="butt"/>
<circle cx="340.10" cy="78.19" r="2.4" fill="#000"/>
<line x1="380.50" y1="84.13" x2="380.50" y2="79.38" stroke="#000" stroke-width="1.5" stroke-linecap="butt"/>
<line x1="378.10" y1="84.13" x2="382.90" y2="84.13" stroke="#000" stroke-width="1.4" stroke-linecap="butt"/>
<line x1="378.10" y1="79.38" x2="382.90" y2="79.38" stroke="#000" stroke-width="1.4" stroke-linecap="butt"/>
<circle cx="380.50" cy="81.75" r="2.4" fill="#000"/>
<circle cx="420.60" cy="80.56" r="2.4" fill="#000"/>
<line x1="460.90" y1="81.16" x2="460.90" y2="77.59" stroke="#000" stroke-width="1.5" stroke-linecap="butt"/>
<line x1="458.50" y1="81.16" x2="463.30" y2="81.16" stroke="#000" stroke-width="1.4" stroke-linecap="butt"/>
<line x1="458.50" y1="77.59" x2="463.30" y2="77.59" stroke="#000" stroke-width="1.4" stroke-linecap="butt"/>
<circle cx="460.90" cy="79.38" r="2.4" fill="#000"/>
<line x1="323.60" y1="22.20" x2="335.00" y2="22.20" stroke="#000" stroke-width="1.25" stroke-linecap="butt"/>
<circle cx="329.30" cy="22.20" r="2.4" fill="#000"/>
<text x="341.90" y="25.30" font-size="10.2" font-weight="normal" font-style="normal" text-anchor="start" fill="#141414" textLength="26.70" lengthAdjust="spacingAndGlyphs" stroke="#141414" stroke-width="0.22">Control</text>
<line x1="376.20" y1="22.20" x2="387.20" y2="22.20" stroke="#fb2a1e" stroke-width="1.35" stroke-linecap="butt"/>
<rect x="379.35" y="19.80" width="4.7" height="4.8" fill="#fb2a1e"/>
<text x="394.00" y="25.30" font-size="9.9" font-weight="normal" font-style="normal" text-anchor="start" fill="#141414" textLength="21.60" lengthAdjust="spacingAndGlyphs" stroke="#141414" stroke-width="0.12">QCB</text>
<text x="282.90" y="18.40" font-size="11.5" font-weight="bold" font-style="normal" text-anchor="start" fill="#111" textLength="17.30" lengthAdjust="spacingAndGlyphs">(C)</text>
<text x="282.70" y="153.60" font-size="11.5" font-weight="bold" font-style="normal" text-anchor="start" fill="#111" textLength="16.80" lengthAdjust="spacingAndGlyphs">(E)</text>
<text x="482.80" y="18.30" font-size="11.5" font-weight="bold" font-style="normal" text-anchor="start" fill="#111" textLength="17.40" lengthAdjust="spacingAndGlyphs">(D)</text>
<text x="477.80" y="153.60" font-size="11.5" font-weight="bold" font-style="normal" text-anchor="start" fill="#111" textLength="16.40" lengthAdjust="spacingAndGlyphs">(F)</text>
<line x1="513.85" y1="12.80" x2="680.90" y2="12.80" stroke="#262626" stroke-width="1.4" stroke-linecap="butt"/>
<line x1="680.20" y1="12.80" x2="680.20" y2="134.30" stroke="#262626" stroke-width="1.4" stroke-linecap="butt"/>
<line x1="514.55" y1="12.10" x2="514.55" y2="135.00" stroke="#262626" stroke-width="1.4" stroke-linecap="butt"/>
<line x1="513.85" y1="134.30" x2="680.90" y2="134.30" stroke="#262626" stroke-width="1.4" stroke-linecap="butt"/>
<line x1="511.20" y1="12.90" x2="514.55" y2="12.90" stroke="#262626" stroke-width="1.2" stroke-linecap="butt"/>
<text x="505.79" y="15.85" font-size="8.8" font-weight="bold" font-style="normal" text-anchor="start" fill="#111" textLength="4.26" lengthAdjust="spacingAndGlyphs">8</text>
<line x1="511.20" y1="43.30" x2="514.55" y2="43.30" stroke="#262626" stroke-width="1.2" stroke-linecap="butt"/>
<text x="505.79" y="46.25" font-size="8.8" font-weight="bold" font-style="normal" text-anchor="start" fill="#111" textLength="4.26" lengthAdjust="spacingAndGlyphs">7</text>
<line x1="511.20" y1="73.70" x2="514.55" y2="73.70" stroke="#262626" stroke-width="1.2" stroke-linecap="butt"/>
<text x="505.79" y="76.65" font-size="8.8" font-weight="bold" font-style="normal" text-anchor="start" fill="#111" textLength="4.26" lengthAdjust="spacingAndGlyphs">6</text>
<line x1="511.20" y1="104.10" x2="514.55" y2="104.10" stroke="#262626" stroke-width="1.2" stroke-linecap="butt"/>
<text x="505.79" y="107.05" font-size="8.8" font-weight="bold" font-style="normal" text-anchor="start" fill="#111" textLength="4.26" lengthAdjust="spacingAndGlyphs">5</text>
<line x1="511.20" y1="134.50" x2="514.55" y2="134.50" stroke="#262626" stroke-width="1.2" stroke-linecap="butt"/>
<text x="505.79" y="137.45" font-size="8.8" font-weight="bold" font-style="normal" text-anchor="start" fill="#111" textLength="4.26" lengthAdjust="spacingAndGlyphs">4</text>
<line x1="535.20" y1="134.30" x2="535.20" y2="137.80" stroke="#262626" stroke-width="1.2" stroke-linecap="butt"/>
<line x1="576.50" y1="134.30" x2="576.50" y2="137.80" stroke="#262626" stroke-width="1.2" stroke-linecap="butt"/>
<line x1="618.00" y1="134.30" x2="618.00" y2="137.80" stroke="#262626" stroke-width="1.2" stroke-linecap="butt"/>
<line x1="659.50" y1="134.30" x2="659.50" y2="137.80" stroke="#262626" stroke-width="1.2" stroke-linecap="butt"/>
<text x="532.50" y="145.10" font-size="9.6" font-weight="bold" font-style="normal" text-anchor="start" fill="#111" textLength="4.60" lengthAdjust="spacingAndGlyphs" transform="rotate(-45 537.10 145.10)">0</text>
<text x="569.21" y="145.10" font-size="9.6" font-weight="bold" font-style="normal" text-anchor="start" fill="#111" textLength="9.19" lengthAdjust="spacingAndGlyphs" transform="rotate(-45 578.40 145.10)">30</text>
<text x="610.71" y="145.10" font-size="9.6" font-weight="bold" font-style="normal" text-anchor="start" fill="#111" textLength="9.19" lengthAdjust="spacingAndGlyphs" transform="rotate(-45 619.90 145.10)">60</text>
<text x="647.61" y="145.10" font-size="9.6" font-weight="bold" font-style="normal" text-anchor="start" fill="#111" textLength="13.79" lengthAdjust="spacingAndGlyphs" transform="rotate(-45 661.40 145.10)">120</text>
<text x="575.10" y="162.60" font-size="9.6" font-weight="bold" font-style="normal" text-anchor="start" fill="#111" textLength="44.40" lengthAdjust="spacingAndGlyphs">Time (min)</text>
<text x="500.20" y="73.30" font-size="9.3" font-weight="bold" font-style="normal" text-anchor="middle" fill="#111" textLength="11.80" lengthAdjust="spacingAndGlyphs" transform="rotate(-90 500.20 73.30)">pH</text>
<polyline fill="none" stroke="#000" stroke-width="1.25" points="535.20,49.38 576.50,52.42 618.00,55.46 659.50,58.50"/>
<polyline fill="none" stroke="#fb2a1e" stroke-width="1.35" points="535.20,49.38 576.50,79.78 618.00,98.02 659.50,107.14"/>
<line x1="535.20" y1="61.54" x2="535.20" y2="37.22" stroke="#fb2a1e" stroke-width="1.55" stroke-linecap="butt"/>
<line x1="532.90" y1="61.54" x2="537.50" y2="61.54" stroke="#fb2a1e" stroke-width="1.45" stroke-linecap="butt"/>
<line x1="532.90" y1="37.22" x2="537.50" y2="37.22" stroke="#fb2a1e" stroke-width="1.45" stroke-linecap="butt"/>
<rect x="532.80" y="46.93" width="4.8" height="4.9" fill="#fb2a1e"/>
<line x1="576.50" y1="94.07" x2="576.50" y2="65.19" stroke="#fb2a1e" stroke-width="1.55" stroke-linecap="butt"/>
<line x1="574.20" y1="94.07" x2="578.80" y2="94.07" stroke="#fb2a1e" stroke-width="1.45" stroke-linecap="butt"/>
<line x1="574.20" y1="65.19" x2="578.80" y2="65.19" stroke="#fb2a1e" stroke-width="1.45" stroke-linecap="butt"/>
<rect x="574.10" y="77.33" width="4.8" height="4.9" fill="#fb2a1e"/>
<line x1="618.00" y1="107.75" x2="618.00" y2="88.29" stroke="#fb2a1e" stroke-width="1.55" stroke-linecap="butt"/>
<line x1="615.70" y1="107.75" x2="620.30" y2="107.75" stroke="#fb2a1e" stroke-width="1.45" stroke-linecap="butt"/>
<line x1="615.70" y1="88.29" x2="620.30" y2="88.29" stroke="#fb2a1e" stroke-width="1.45" stroke-linecap="butt"/>
<rect x="615.60" y="95.57" width="4.8" height="4.9" fill="#fb2a1e"/>
<line x1="659.50" y1="114.44" x2="659.50" y2="99.84" stroke="#fb2a1e" stroke-width="1.55" stroke-linecap="butt"/>
<line x1="657.20" y1="114.44" x2="661.80" y2="114.44" stroke="#fb2a1e" stroke-width="1.45" stroke-linecap="butt"/>
<line x1="657.20" y1="99.84" x2="661.80" y2="99.84" stroke="#fb2a1e" stroke-width="1.45" stroke-linecap="butt"/>
<rect x="657.10" y="104.69" width="4.8" height="4.9" fill="#fb2a1e"/>
<line x1="535.20" y1="58.50" x2="535.20" y2="40.26" stroke="#000" stroke-width="1.5" stroke-linecap="butt"/>
<line x1="532.80" y1="58.50" x2="537.60" y2="58.50" stroke="#000" stroke-width="1.4" stroke-linecap="butt"/>
<line x1="532.80" y1="40.26" x2="537.60" y2="40.26" stroke="#000" stroke-width="1.4" stroke-linecap="butt"/>
<circle cx="535.20" cy="49.38" r="2.4" fill="#000"/>
<line x1="576.50" y1="58.50" x2="576.50" y2="46.34" stroke="#000" stroke-width="1.5" stroke-linecap="butt"/>
<line x1="574.10" y1="58.50" x2="578.90" y2="58.50" stroke="#000" stroke-width="1.4" stroke-linecap="butt"/>
<line x1="574.10" y1="46.34" x2="578.90" y2="46.34" stroke="#000" stroke-width="1.4" stroke-linecap="butt"/>
<circle cx="576.50" cy="52.42" r="2.4" fill="#000"/>
<line x1="618.00" y1="59.11" x2="618.00" y2="51.81" stroke="#000" stroke-width="1.5" stroke-linecap="butt"/>
<line x1="615.60" y1="59.11" x2="620.40" y2="59.11" stroke="#000" stroke-width="1.4" stroke-linecap="butt"/>
<line x1="615.60" y1="51.81" x2="620.40" y2="51.81" stroke="#000" stroke-width="1.4" stroke-linecap="butt"/>
<circle cx="618.00" cy="55.46" r="2.4" fill="#000"/>
<line x1="659.50" y1="62.15" x2="659.50" y2="54.85" stroke="#000" stroke-width="1.5" stroke-linecap="butt"/>
<line x1="657.10" y1="62.15" x2="661.90" y2="62.15" stroke="#000" stroke-width="1.4" stroke-linecap="butt"/>
<line x1="657.10" y1="54.85" x2="661.90" y2="54.85" stroke="#000" stroke-width="1.4" stroke-linecap="butt"/>
<circle cx="659.50" cy="58.50" r="2.4" fill="#000"/>
<line x1="568.00" y1="20.85" x2="580.20" y2="20.85" stroke="#000" stroke-width="1.25" stroke-linecap="butt"/>
<circle cx="574.10" cy="20.85" r="2.4" fill="#000"/>
<text x="587.00" y="23.40" font-size="10.2" font-weight="normal" font-style="normal" text-anchor="start" fill="#141414" textLength="27.90" lengthAdjust="spacingAndGlyphs" stroke="#141414" stroke-width="0.22">Control</text>
<line x1="619.80" y1="20.85" x2="631.50" y2="20.85" stroke="#fb2a1e" stroke-width="1.35" stroke-linecap="butt"/>
<rect x="623.30" y="18.45" width="4.7" height="4.8" fill="#fb2a1e"/>
<text x="638.80" y="23.40" font-size="9.9" font-weight="normal" font-style="normal" text-anchor="start" fill="#141414" textLength="21.60" lengthAdjust="spacingAndGlyphs" stroke="#141414" stroke-width="0.12">QCB</text>
<line x1="319.45" y1="179.65" x2="485.25" y2="179.65" stroke="#262626" stroke-width="1.4" stroke-linecap="butt"/>
<line x1="484.55" y1="179.65" x2="484.55" y2="300.35" stroke="#262626" stroke-width="1.4" stroke-linecap="butt"/>
<line x1="320.15" y1="178.95" x2="320.15" y2="301.05" stroke="#262626" stroke-width="1.4" stroke-linecap="butt"/>
<line x1="319.45" y1="300.35" x2="485.25" y2="300.35" stroke="#262626" stroke-width="1.4" stroke-linecap="butt"/>
<line x1="316.80" y1="194.50" x2="320.15" y2="194.50" stroke="#262626" stroke-width="1.2" stroke-linecap="butt"/>
<text x="306.54" y="197.45" font-size="8.8" font-weight="bold" font-style="normal" text-anchor="start" fill="#111" textLength="8.51" lengthAdjust="spacingAndGlyphs">12</text>
<line x1="316.80" y1="224.90" x2="320.15" y2="224.90" stroke="#262626" stroke-width="1.2" stroke-linecap="butt"/>
<text x="306.54" y="227.85" font-size="8.8" font-weight="bold" font-style="normal" text-anchor="start" fill="#111" textLength="8.51" lengthAdjust="spacingAndGlyphs">10</text>
<line x1="316.80" y1="255.30" x2="320.15" y2="255.30" stroke="#262626" stroke-width="1.2" stroke-linecap="butt"/>
<text x="310.79" y="258.25" font-size="8.8" font-weight="bold" font-style="normal" text-anchor="start" fill="#111" textLength="4.26" lengthAdjust="spacingAndGlyphs">8</text>
<line x1="316.80" y1="285.70" x2="320.15" y2="285.70" stroke="#262626" stroke-width="1.2" stroke-linecap="butt"/>
<text x="310.79" y="288.65" font-size="8.8" font-weight="bold" font-style="normal" text-anchor="start" fill="#111" textLength="4.26" lengthAdjust="spacingAndGlyphs">6</text>
<line x1="340.50" y1="300.35" x2="340.50" y2="303.85" stroke="#262626" stroke-width="1.2" stroke-linecap="butt"/>
<line x1="381.50" y1="300.35" x2="381.50" y2="303.85" stroke="#262626" stroke-width="1.2" stroke-linecap="butt"/>
<line x1="422.60" y1="300.35" x2="422.60" y2="303.85" stroke="#262626" stroke-width="1.2" stroke-linecap="butt"/>
<line x1="463.90" y1="300.35" x2="463.90" y2="303.85" stroke="#262626" stroke-width="1.2" stroke-linecap="butt"/>
<text x="337.80" y="311.15" font-size="9.6" font-weight="bold" font-style="normal" text-anchor="start" fill="#111" textLength="4.60" lengthAdjust="spacingAndGlyphs" transform="rotate(-45 342.40 311.15)">0</text>
<text x="374.21" y="311.15" font-size="9.6" font-weight="bold" font-style="normal" text-anchor="start" fill="#111" textLength="9.19" lengthAdjust="spacingAndGlyphs" transform="rotate(-45 383.40 311.15)">30</text>
<text x="415.31" y="311.15" font-size="9.6" font-weight="bold" font-style="normal" text-anchor="start" fill="#111" textLength="9.19" lengthAdjust="spacingAndGlyphs" transform="rotate(-45 424.50 311.15)">60</text>
<text x="452.01" y="311.15" font-size="9.6" font-weight="bold" font-style="normal" text-anchor="start" fill="#111" textLength="13.79" lengthAdjust="spacingAndGlyphs" transform="rotate(-45 465.80 311.15)">120</text>
<text x="380.40" y="328.90" font-size="9.6" font-weight="bold" font-style="normal" text-anchor="start" fill="#111" textLength="43.80" lengthAdjust="spacingAndGlyphs">Time (min)</text>
<text x="300.40" y="239.30" font-size="9.2" font-weight="bold" font-style="normal" text-anchor="middle" fill="#111" textLength="84.40" lengthAdjust="spacingAndGlyphs" transform="rotate(-90 300.40 239.30)">K+ efflus (mg/mL)</text>
<polyline fill="none" stroke="#000" stroke-width="1.25" points="340.50,273.54 381.50,273.54 422.60,273.54 463.90,273.54"/>
<polyline fill="none" stroke="#fb2a1e" stroke-width="1.35" points="340.50,273.54 381.50,249.22 422.60,220.34 463.90,202.10"/>
<line x1="340.50" y1="293.30" x2="340.50" y2="253.02" stroke="#fb2a1e" stroke-width="1.55" stroke-linecap="butt"/>
<line x1="338.20" y1="293.30" x2="342.80" y2="293.30" stroke="#fb2a1e" stroke-width="1.45" stroke-linecap="butt"/>
<line x1="338.20" y1="253.02" x2="342.80" y2="253.02" stroke="#fb2a1e" stroke-width="1.45" stroke-linecap="butt"/>
<rect x="338.10" y="271.09" width="4.8" height="4.9" fill="#fb2a1e"/>
<line x1="381.50" y1="267.46" x2="381.50" y2="230.98" stroke="#fb2a1e" stroke-width="1.55" stroke-linecap="butt"/>
<line x1="379.20" y1="267.46" x2="383.80" y2="267.46" stroke="#fb2a1e" stroke-width="1.45" stroke-linecap="butt"/>
<line x1="379.20" y1="230.98" x2="383.80" y2="230.98" stroke="#fb2a1e" stroke-width="1.45" stroke-linecap="butt"/>
<rect x="379.10" y="246.77" width="4.8" height="4.9" fill="#fb2a1e"/>
<line x1="422.60" y1="237.06" x2="422.60" y2="203.62" stroke="#fb2a1e" stroke-width="1.55" stroke-linecap="butt"/>
<line x1="420.30" y1="237.06" x2="424.90" y2="237.06" stroke="#fb2a1e" stroke-width="1.45" stroke-linecap="butt"/>
<line x1="420.30" y1="203.62" x2="424.90" y2="203.62" stroke="#fb2a1e" stroke-width="1.45" stroke-linecap="butt"/>
<rect x="420.20" y="217.89" width="4.8" height="4.9" fill="#fb2a1e"/>
<line x1="463.90" y1="218.82" x2="463.90" y2="185.38" stroke="#fb2a1e" stroke-width="1.55" stroke-linecap="butt"/>
<line x1="461.60" y1="218.82" x2="466.20" y2="218.82" stroke="#fb2a1e" stroke-width="1.45" stroke-linecap="butt"/>
<line x1="461.60" y1="185.38" x2="466.20" y2="185.38" stroke="#fb2a1e" stroke-width="1.45" stroke-linecap="butt"/>
<rect x="461.50" y="199.65" width="4.8" height="4.9" fill="#fb2a1e"/>
<circle cx="340.50" cy="273.54" r="2.4" fill="#000"/>
<circle cx="381.50" cy="273.54" r="2.4" fill="#000"/>
<circle cx="422.60" cy="273.54" r="2.4" fill="#000"/>
<circle cx="463.90" cy="273.54" r="2.4" fill="#000"/>
<line x1="323.90" y1="187.50" x2="335.40" y2="187.50" stroke="#000" stroke-width="1.25" stroke-linecap="butt"/>
<circle cx="329.65" cy="187.50" r="2.4" fill="#000"/>
<text x="342.20" y="190.60" font-size="10.2" font-weight="normal" font-style="normal" text-anchor="start" fill="#141414" textLength="27.90" lengthAdjust="spacingAndGlyphs" stroke="#141414" stroke-width="0.22">Control</text>
<line x1="377.40" y1="187.50" x2="388.60" y2="187.50" stroke="#fb2a1e" stroke-width="1.35" stroke-linecap="butt"/>
<rect x="380.65" y="185.10" width="4.7" height="4.8" fill="#fb2a1e"/>
<text x="393.20" y="190.60" font-size="9.9" font-weight="normal" font-style="normal" text-anchor="start" fill="#141414" textLength="21.60" lengthAdjust="spacingAndGlyphs" stroke="#141414" stroke-width="0.12">QCB</text>
<line x1="523.80" y1="180.80" x2="684.60" y2="180.80" stroke="#262626" stroke-width="1.4" stroke-linecap="butt"/>
<line x1="683.90" y1="180.80" x2="683.90" y2="298.10" stroke="#262626" stroke-width="1.4" stroke-linecap="butt"/>
<line x1="524.50" y1="180.10" x2="524.50" y2="298.80" stroke="#262626" stroke-width="1.4" stroke-linecap="butt"/>
<line x1="523.80" y1="298.10" x2="684.60" y2="298.10" stroke="#262626" stroke-width="1.4" stroke-linecap="butt"/>
<line x1="521.15" y1="180.50" x2="524.50" y2="180.50" stroke="#262626" stroke-width="1.2" stroke-linecap="butt"/>
<text x="507.03" y="183.45" font-size="8.8" font-weight="bold" font-style="normal" text-anchor="start" fill="#111" textLength="12.77" lengthAdjust="spacingAndGlyphs">120</text>
<line x1="521.15" y1="209.95" x2="524.50" y2="209.95" stroke="#262626" stroke-width="1.2" stroke-linecap="butt"/>
<text x="507.03" y="212.90" font-size="8.8" font-weight="bold" font-style="normal" text-anchor="start" fill="#111" textLength="12.77" lengthAdjust="spacingAndGlyphs">100</text>
<line x1="521.15" y1="239.40" x2="524.50" y2="239.40" stroke="#262626" stroke-width="1.2" stroke-linecap="butt"/>
<text x="511.29" y="242.35" font-size="8.8" font-weight="bold" font-style="normal" text-anchor="start" fill="#111" textLength="8.51" lengthAdjust="spacingAndGlyphs">80</text>
<line x1="521.15" y1="268.85" x2="524.50" y2="268.85" stroke="#262626" stroke-width="1.2" stroke-linecap="butt"/>
<text x="511.29" y="271.80" font-size="8.8" font-weight="bold" font-style="normal" text-anchor="start" fill="#111" textLength="8.51" lengthAdjust="spacingAndGlyphs">60</text>
<line x1="521.15" y1="298.30" x2="524.50" y2="298.30" stroke="#262626" stroke-width="1.2" stroke-linecap="butt"/>
<text x="511.29" y="301.25" font-size="8.8" font-weight="bold" font-style="normal" text-anchor="start" fill="#111" textLength="8.51" lengthAdjust="spacingAndGlyphs">40</text>
<line x1="544.30" y1="298.10" x2="544.30" y2="301.60" stroke="#262626" stroke-width="1.2" stroke-linecap="butt"/>
<line x1="584.30" y1="298.10" x2="584.30" y2="301.60" stroke="#262626" stroke-width="1.2" stroke-linecap="butt"/>
<line x1="624.30" y1="298.10" x2="624.30" y2="301.60" stroke="#262626" stroke-width="1.2" stroke-linecap="butt"/>
<line x1="664.00" y1="298.10" x2="664.00" y2="301.60" stroke="#262626" stroke-width="1.2" stroke-linecap="butt"/>
<text x="541.60" y="308.70" font-size="9.6" font-weight="bold" font-style="normal" text-anchor="start" fill="#111" textLength="4.60" lengthAdjust="spacingAndGlyphs" transform="rotate(-45 546.20 308.70)">0</text>
<text x="577.01" y="308.70" font-size="9.6" font-weight="bold" font-style="normal" text-anchor="start" fill="#111" textLength="9.19" lengthAdjust="spacingAndGlyphs" transform="rotate(-45 586.20 308.70)">30</text>
<text x="617.01" y="308.70" font-size="9.6" font-weight="bold" font-style="normal" text-anchor="start" fill="#111" textLength="9.19" lengthAdjust="spacingAndGlyphs" transform="rotate(-45 626.20 308.70)">60</text>
<text x="652.11" y="308.70" font-size="9.6" font-weight="bold" font-style="normal" text-anchor="start" fill="#111" textLength="13.79" lengthAdjust="spacingAndGlyphs" transform="rotate(-45 665.90 308.70)">120</text>
<text x="583.10" y="325.30" font-size="9.6" font-weight="bold" font-style="normal" text-anchor="start" fill="#111" textLength="42.40" lengthAdjust="spacingAndGlyphs">Time (min)</text>
<text x="502.40" y="238.45" font-size="9.3" font-weight="bold" font-style="normal" text-anchor="middle" fill="#111" textLength="142.50" lengthAdjust="spacingAndGlyphs" transform="rotate(-90 502.40 238.45)">Extrallular conduvtivity (us/cm)</text>
<polyline fill="none" stroke="#000" stroke-width="1.25" points="544.30,267.38 584.30,266.94 624.30,265.91 664.00,264.43"/>
<polyline fill="none" stroke="#fb2a1e" stroke-width="1.35" points="544.30,265.91 584.30,242.35 624.30,233.51 664.00,208.48"/>
<line x1="544.30" y1="271.80" x2="544.30" y2="260.01" stroke="#fb2a1e" stroke-width="1.55" stroke-linecap="butt"/>
<line x1="542.00" y1="271.80" x2="546.60" y2="271.80" stroke="#fb2a1e" stroke-width="1.45" stroke-linecap="butt"/>
<line x1="542.00" y1="260.01" x2="546.60" y2="260.01" stroke="#fb2a1e" stroke-width="1.45" stroke-linecap="butt"/>
<rect x="541.90" y="263.46" width="4.8" height="4.9" fill="#fb2a1e"/>
<line x1="584.30" y1="249.71" x2="584.30" y2="234.98" stroke="#fb2a1e" stroke-width="1.55" stroke-linecap="butt"/>
<line x1="582.00" y1="249.71" x2="586.60" y2="249.71" stroke="#fb2a1e" stroke-width="1.45" stroke-linecap="butt"/>
<line x1="582.00" y1="234.98" x2="586.60" y2="234.98" stroke="#fb2a1e" stroke-width="1.45" stroke-linecap="butt"/>
<rect x="581.90" y="239.90" width="4.8" height="4.9" fill="#fb2a1e"/>
<line x1="624.30" y1="252.65" x2="624.30" y2="214.37" stroke="#fb2a1e" stroke-width="1.55" stroke-linecap="butt"/>
<line x1="622.00" y1="252.65" x2="626.60" y2="252.65" stroke="#fb2a1e" stroke-width="1.45" stroke-linecap="butt"/>
<line x1="622.00" y1="214.37" x2="626.60" y2="214.37" stroke="#fb2a1e" stroke-width="1.45" stroke-linecap="butt"/>
<rect x="621.90" y="231.06" width="4.8" height="4.9" fill="#fb2a1e"/>
<line x1="664.00" y1="229.09" x2="664.00" y2="187.86" stroke="#fb2a1e" stroke-width="1.55" stroke-linecap="butt"/>
<line x1="661.70" y1="229.09" x2="666.30" y2="229.09" stroke="#fb2a1e" stroke-width="1.45" stroke-linecap="butt"/>
<line x1="661.70" y1="187.86" x2="666.30" y2="187.86" stroke="#fb2a1e" stroke-width="1.45" stroke-linecap="butt"/>
<rect x="661.60" y="206.03" width="4.8" height="4.9" fill="#fb2a1e"/>
<circle cx="544.30" cy="267.38" r="2.4" fill="#000"/>
<circle cx="584.30" cy="266.94" r="2.4" fill="#000"/>
<circle cx="624.30" cy="265.91" r="2.4" fill="#000"/>
<circle cx="664.00" cy="264.43" r="2.4" fill="#000"/>
<line x1="528.10" y1="188.60" x2="539.50" y2="188.60" stroke="#000" stroke-width="1.25" stroke-linecap="butt"/>
<circle cx="533.80" cy="188.60" r="2.4" fill="#000"/>
<text x="545.70" y="191.30" font-size="10.2" font-weight="normal" font-style="normal" text-anchor="start" fill="#141414" textLength="26.90" lengthAdjust="spacingAndGlyphs" stroke="#141414" stroke-width="0.22">Control</text>
<line x1="579.90" y1="188.60" x2="591.60" y2="188.60" stroke="#fb2a1e" stroke-width="1.35" stroke-linecap="butt"/>
<rect x="583.40" y="186.20" width="4.7" height="4.8" fill="#fb2a1e"/>
<text x="596.80" y="191.30" font-size="9.9" font-weight="normal" font-style="normal" text-anchor="start" fill="#141414" textLength="21.90" lengthAdjust="spacingAndGlyphs" stroke="#141414" stroke-width="0.12">QCB</text>
</svg>
</body></html>
